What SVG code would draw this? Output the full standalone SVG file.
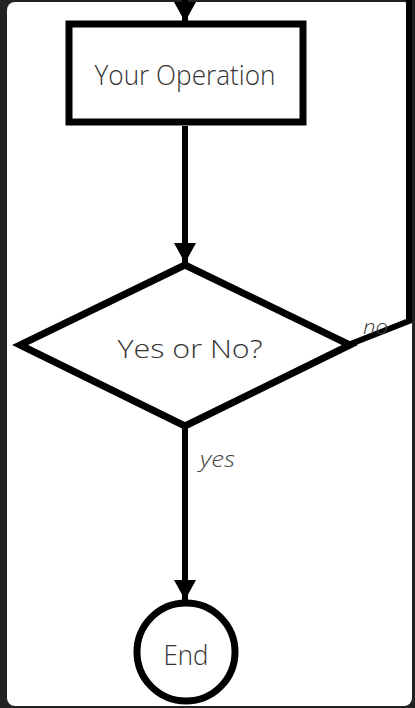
<svg xmlns="http://www.w3.org/2000/svg" width="415" height="708" viewBox="0 0 415 708">
<style>
.shape{fill:#fff;stroke:#000;stroke-width:7}
.edge{fill:none;stroke:#000;stroke-width:6;stroke-linejoin:miter}
.lbl{font-family:"Open Sans","Liberation Sans",sans-serif;font-weight:300;fill:#333;text-anchor:middle}
.elbl{font-family:"Open Sans","Liberation Sans",sans-serif;font-weight:300;font-style:italic;fill:#444}
</style>
<defs>
<marker id="ah" viewBox="0 0 20 22" refX="20" refY="11" markerWidth="20" markerHeight="22" markerUnits="userSpaceOnUse" orient="auto">
<path d="M0,0 L20,11 L0,22 Z" fill="#000"/>
</marker>
</defs>
<rect x="0" y="0" width="415" height="708" fill="#222"/>
<rect x="7" y="2" width="405" height="704" rx="8" fill="#fff"/>
<g id="connectors">
<path class="edge" d="M185,-10 L185,22" marker-end="url(#ah)"/>
<path class="edge" d="M185,126 L185,263" marker-end="url(#ah)"/>
<path class="edge" d="M185,427 L185,600" marker-end="url(#ah)"/>
<path class="edge" d="M348,345 L409,321 L409,-10"/>
<text class="elbl" x="363" y="334" font-size="20" textLength="25" lengthAdjust="spacingAndGlyphs">no</text>
<text class="elbl" x="200" y="467" font-size="22" textLength="35" lengthAdjust="spacingAndGlyphs">yes</text>
</g>
<g id="operation">
<rect class="shape" x="69" y="24" width="234" height="98"/>
<text class="lbl" x="185" y="85" font-size="27" textLength="181" lengthAdjust="spacingAndGlyphs">Your Operation</text>
</g>
<g id="decision">
<polygon class="shape" points="185,265 350,345 185,426 20,345"/>
<text class="lbl" x="190" y="358" font-size="26" textLength="145" lengthAdjust="spacingAndGlyphs">Yes or No?</text>
</g>
<g id="end">
<circle class="shape" cx="186" cy="652" r="49" stroke-width="6"/>
<text class="lbl" x="186" y="665" font-size="28" textLength="45" lengthAdjust="spacingAndGlyphs">End</text>
</g>
</svg>
